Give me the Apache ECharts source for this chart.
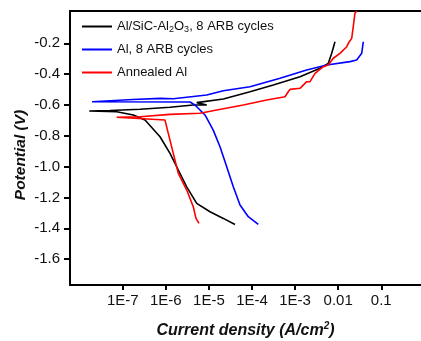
<!DOCTYPE html>
<html>
<head>
<meta charset="utf-8">
<script src="https://cdn.jsdelivr.net/npm/echarts@6/dist/echarts.min.js"></script>
<style>
    html, body {margin: 0; padding: 0; background: #fff;}
    #tafelChart {width: 421px; height: 341px;}
</style>
</head>
<body>
<div id="tafelChart"></div>
<script>
// Al/SiC-Al2O3, 8 ARB cycles (扫描顺序: 阴极 -> Ecorr -> 阳极)
var black_i = [4.03e-5, 2.16e-5, 1.06e-5, 5.21e-6, 3.05e-6, 1.95e-6, 1.25e-6, 7.33e-7, 3.29e-7, 1.76e-7, 7.24e-8, 1.67e-8,
    5.07e-8, 2.52e-7, 1.25e-6, 4.34e-6, 8.89e-6, 5.21e-6, 2.16e-5, 8.99e-5, 3.12e-4, 1.30e-3, 3.79e-3, 5.90e-3, 7.08e-3, 8.43e-3];
var black_e = [-1.375, -1.336, -1.293, -1.238, -1.131, -1.022, -0.914, -0.806, -0.698, -0.665, -0.644, -0.639,
    -0.636, -0.628, -0.615, -0.600, -0.600, -0.585, -0.561, -0.514, -0.471, -0.417, -0.362, -0.330, -0.265, -0.190];

// Al, 8 ARB cycles
var blue_i = [1.40e-4, 8.20e-5, 5.27e-5, 3.68e-5, 2.59e-5, 1.81e-5, 1.26e-5, 8.11e-6, 4.75e-6, 3.64e-6, 1.94e-8,
    1.73e-7, 7.33e-7, 1.49e-6, 8.89e-6, 2.16e-5, 8.99e-5, 4.47e-4, 1.86e-3, 5.42e-3, 1.88e-2, 2.69e-2, 3.52e-2, 3.83e-2];
var blue_e = [-1.375, -1.325, -1.249, -1.131, -1.001, -0.871, -0.763, -0.665, -0.600, -0.581, -0.579,
    -0.565, -0.557, -0.560, -0.535, -0.508, -0.482, -0.427, -0.373, -0.341, -0.319, -0.308, -0.265, -0.190];

// Annealed Al
var red_i = [5.89e-6, 5.01e-6, 4.34e-6, 3.05e-6, 1.95e-6, 1.49e-6, 1.14e-6, 9.57e-7, 8.74e-7, 7.24e-8,
    2.52e-7, 1.25e-6, 6.21e-6, 1.52e-5, 6.28e-5, 2.19e-4, 5.83e-4, 6.95e-4, 7.62e-4, 1.30e-3, 1.86e-3, 2.22e-3,
    2.90e-3, 4.52e-3, 5.90e-3, 7.71e-3, 1.10e-2, 1.58e-2, 1.72e-2, 2.06e-2, 2.24e-2, 2.45e-2, 2.69e-2];
var red_e = [-1.368, -1.336, -1.260, -1.152, -1.044, -0.914, -0.784, -0.698, -0.693, -0.680,
    -0.676, -0.661, -0.654, -0.633, -0.600, -0.568, -0.547, -0.514, -0.499, -0.492, -0.449, -0.449,
    -0.395, -0.352, -0.341, -0.297, -0.265, -0.222, -0.200, -0.168, -0.092, -0.005, 0.010];

var seriesNames = ['Al/SiC-Al2O3, 8 ARB cycles', 'Al, 8 ARB cycles', 'Annealed Al'];
var seriesColors = ['#000000', '#0000ff', '#ff0000'];

// 刻度
var x_tick_values = [1e-7, 1e-6, 1e-5, 1e-4, 1e-3, 1e-2, 1e-1];
var x_tick_labels = ['1E-7', '1E-6', '1E-5', '1E-4', '1E-3', '0.01', '0.1'];
var y_tick_values = [-1.6, -1.4, -1.2, -1.0, -0.8, -0.6, -0.4, -0.2];

function pairs(xs, ys) {
    var out = [];
    for (var i = 0; i < xs.length; i++) {
        out.push([xs[i], ys[i]]);
    }
    return out;
}

var fontName = 'Liberation Sans, Arial, sans-serif';

var chart = echarts.init(document.getElementById('tafelChart'));
var option = {
    animation: false,
    backgroundColor: '#fff',
    textStyle: {fontFamily: fontName},
    grid: {left: 70, right: 0, top: 11, bottom: 56, outerBoundsMode: 'none', containLabel: false},
    legend: {
        orient: 'vertical',
        left: 77,
        top: 14,
        itemWidth: 30,
        itemHeight: 14,
        itemGap: 8,
        icon: 'path://M0,0H30V2H0Z',
        symbolKeepAspect: true,
        data: seriesNames,
        formatter: function (name) {
            if (name === seriesNames[0]) {
                return 'Al/SiC-Al{sub|2}O{sub|3}, 8 ARB cycles';
            }
            return name;
        },
        textStyle: {
            fontFamily: fontName,
            fontSize: 13,
            color: '#111',
            lineHeight: 15,
            rich: {
                sub: {fontFamily: fontName, fontSize: 9, lineHeight: 9, verticalAlign: 'bottom', color: '#111'}
            }
        }
    },
    xAxis: [
        {
            type: 'log',
            logBase: 10,
            min: 5.97e-9,
            max: 0.836,
            splitNumber: 10,
            position: 'bottom',
            name: 'Current density (A/cm{sup|2})',
            nameLocation: 'middle',
            nameGap: 36,
            nameMoveOverlap: false,
            nameTextStyle: {
                fontFamily: fontName,
                fontSize: 16,
                fontWeight: 'bold',
                fontStyle: 'italic',
                color: '#111',
                lineHeight: 20,
                rich: {
                    sup: {fontFamily: fontName, fontSize: 10, fontWeight: 'bold', fontStyle: 'italic',
                        lineHeight: 10, verticalAlign: 'top', color: '#111'}
                }
            },
            axisLine: {show: true, onZero: false, lineStyle: {color: '#000', width: 2}},
            axisTick: {show: true, inside: false, length: 5, lineStyle: {color: '#000', width: 2},
                customValues: x_tick_values},
            axisLabel: {
                fontFamily: fontName,
                fontSize: 15,
                color: '#111',
                margin: 8,
                customValues: x_tick_values,
                formatter: function (v) {
                    var k = Math.log10(v);
                    for (var i = 0; i < x_tick_values.length; i++) {
                        if (Math.abs(Math.log10(x_tick_values[i]) - k) < 1e-6) {
                            return x_tick_labels[i];
                        }
                    }
                    return '';
                }
            },
            splitLine: {show: false}
        },
        {
            // 上边框
            type: 'value',
            position: 'top',
            min: 0,
            max: 1,
            axisLine: {show: true, onZero: false, lineStyle: {color: '#000', width: 2}},
            axisTick: {show: false},
            axisLabel: {show: false},
            splitLine: {show: false}
        }
    ],
    yAxis: {
        type: 'value',
        min: -1.768,
        max: 0.0096,
        name: 'Potential (V)',
        nameLocation: 'middle',
        nameGap: 41,
        nameMoveOverlap: false,
        nameTextStyle: {
            fontFamily: fontName,
            fontSize: 15.5,
            fontWeight: 'bold',
            fontStyle: 'italic',
            color: '#111',
            padding: [0, 14, 0, 0]
        },
        axisLine: {show: true, onZero: false, lineStyle: {color: '#000', width: 2}},
        axisTick: {show: true, inside: false, length: 6, lineStyle: {color: '#000', width: 2},
            customValues: y_tick_values},
        axisLabel: {
            fontFamily: fontName,
            fontSize: 15,
            color: '#111',
            margin: 10,
            customValues: y_tick_values,
            formatter: function (v) {
                return v.toFixed(1);
            }
        },
        splitLine: {show: false}
    },
    series: [
        {
            name: seriesNames[0],
            type: 'line',
            symbol: 'none',
            data: pairs(black_i, black_e),
            lineStyle: {color: seriesColors[0], width: 1.6},
            itemStyle: {color: seriesColors[0]}
        },
        {
            name: seriesNames[1],
            type: 'line',
            symbol: 'none',
            data: pairs(blue_i, blue_e),
            lineStyle: {color: seriesColors[1], width: 1.6},
            itemStyle: {color: seriesColors[1]}
        },
        {
            name: seriesNames[2],
            type: 'line',
            symbol: 'none',
            data: pairs(red_i, red_e),
            lineStyle: {color: seriesColors[2], width: 1.6},
            itemStyle: {color: seriesColors[2]}
        }
    ]
};
chart.setOption(option);
</script>
</body>
</html>
